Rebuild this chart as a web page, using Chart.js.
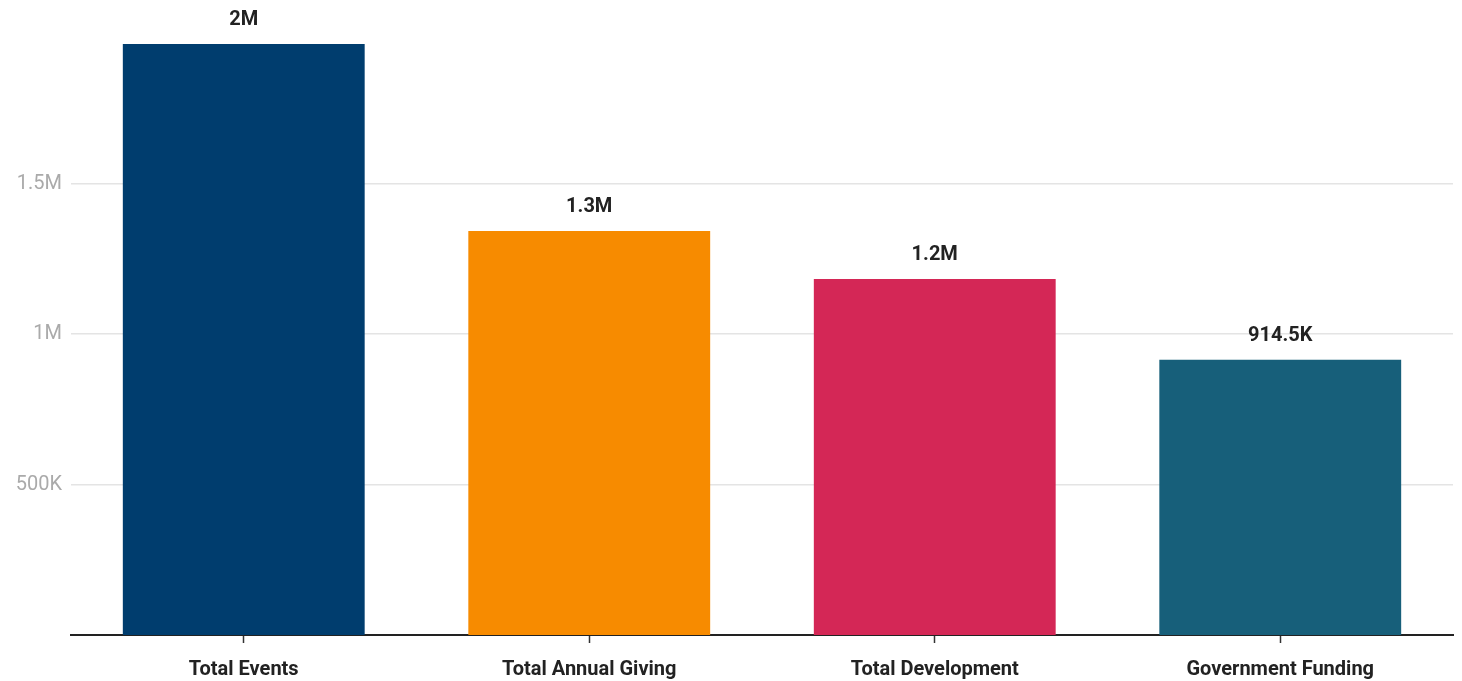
<!DOCTYPE html>
<html>
<head>
<meta charset="utf-8">
<script src="https://cdn.jsdelivr.net/npm/chart.js@4"></script>
<style>
  html, body { margin: 0; padding: 0; background: #fff; }
  #wrap { width: 1462px; height: 681px; position: relative; }
</style>
</head>
<body>
<div id="wrap"><canvas id="fundChart"></canvas></div>
<script>
// data
const categories = ["Total Events", "Total Annual Giving", "Total Development", "Government Funding"];
const amounts = [1963500, 1342000, 1183000, 914500];
const barColors = ["#003d6e", "#f78b00", "#d42756", "#175f7a"];
const yTicks = [500000, 1000000, 1500000];

function fmt(v) {
  if (v >= 1000000) return (Math.round(v / 100000) / 10).toString() + "M";
  if (v >= 1000) return (Math.round(v / 100) / 10).toString() + "K";
  return String(v);
}

// value labels above each bar
const barLabels = {
  id: "barLabels",
  afterDatasetsDraw(chart) {
    const ctx = chart.ctx;
    const meta = chart.getDatasetMeta(0);
    ctx.save();
    ctx.font = "bold 20px Roboto";
    ctx.fillStyle = "#222";
    ctx.textAlign = "center";
    ctx.textBaseline = "middle";
    meta.data.forEach((bar, i) => {
      ctx.fillText(fmt(amounts[i]), bar.x, bar.y - 24);
    });
    ctx.restore();
  }
};

new Chart(document.getElementById("fundChart"), {
  type: "bar",
  data: {
    labels: categories,
    datasets: [{
      data: amounts,
      backgroundColor: barColors,
      borderWidth: 0,
      barPercentage: 0.7,
      categoryPercentage: 1
    }]
  },
  options: {
    responsive: true,
    maintainAspectRatio: false,
    animation: false,
    layout: { padding: { top: 44, right: 9, left: 0, bottom: 0 } },
    plugins: { legend: { display: false }, tooltip: { enabled: false } },
    scales: {
      x: {
        grid: { offset: false, drawOnChartArea: false, drawTicks: true, tickLength: 8, tickColor: "#333", tickWidth: 1.5 },
        border: { color: "#222", width: 2 },
        ticks: { color: "#222", font: { family: "Roboto", weight: "bold", size: 20 }, padding: 15, maxRotation: 0 },
        afterFit(scale) { scale.height = 46; }
      },
      y: {
        min: 0,
        max: amounts[0],
        afterBuildTicks(scale) { scale.ticks = yTicks.map(v => ({ value: v })); },
        grid: { color: "#e4e4e4", lineWidth: 1.5, drawTicks: false },
        border: { display: false },
        ticks: { color: "#aaa", font: { family: "Roboto", size: 20 }, padding: 9, callback: v => fmt(v) },
        afterFit(scale) { scale.width = 71; }
      }
    }
  },
  plugins: [barLabels]
});
</script>
</body>
</html>
